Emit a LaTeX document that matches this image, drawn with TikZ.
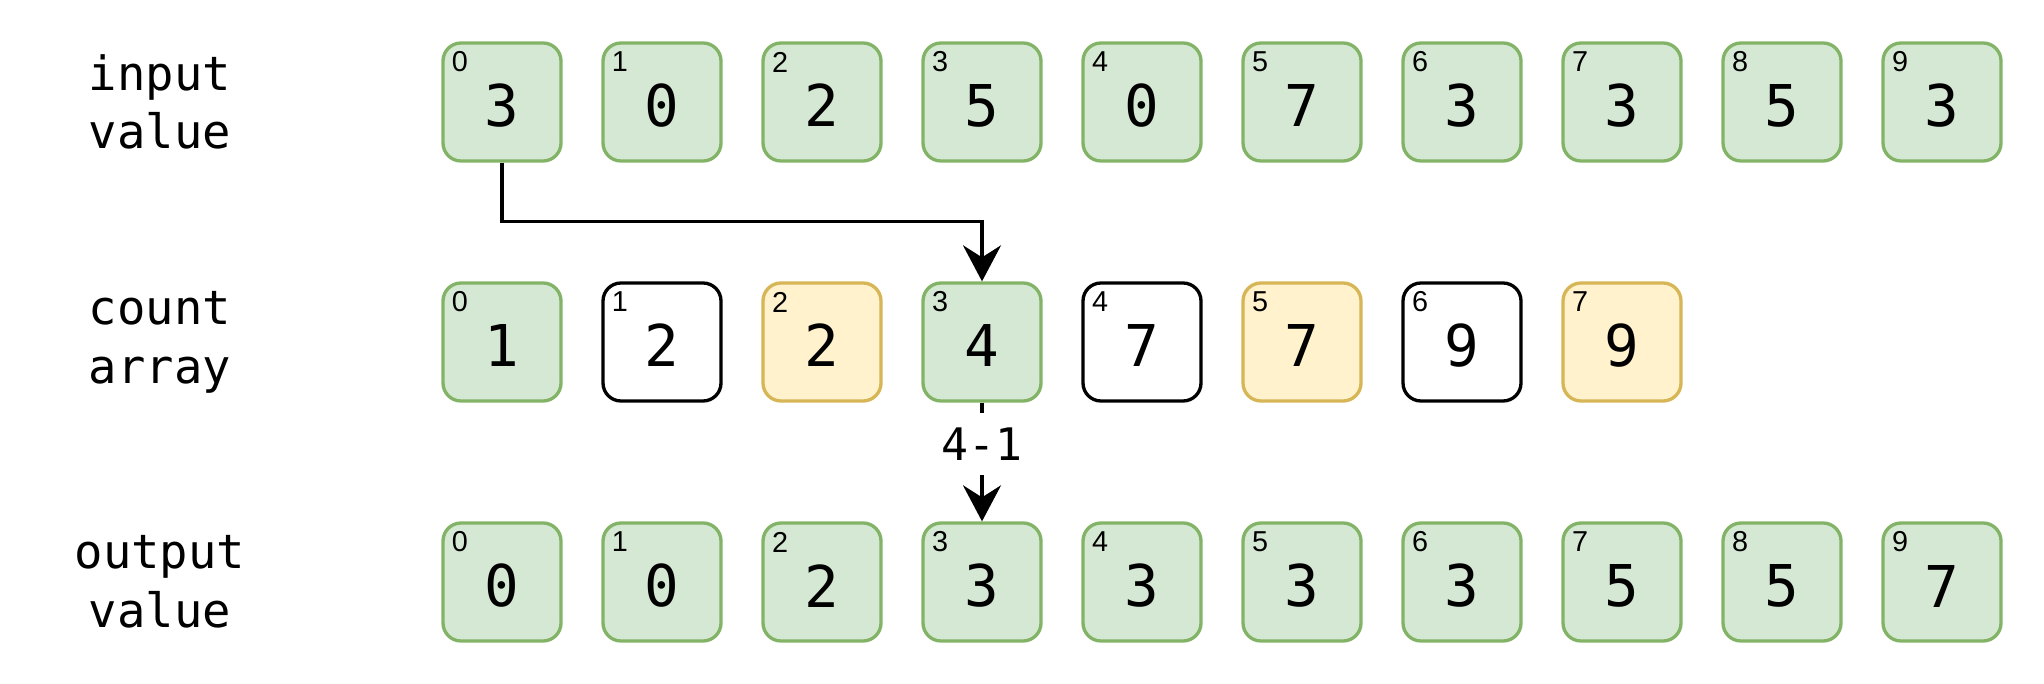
\documentclass[tikz,border=0pt]{standalone}
\usepackage{fontspec}
\setmonofont{DejaVu Sans Mono}
\newfontfamily\idxfont{Liberation Sans}
\usetikzlibrary{arrows.meta}

\definecolor{okfill}{HTML}{D5E8D4}
\definecolor{okline}{HTML}{82B366}
\definecolor{hlfill}{HTML}{FFF2CC}
\definecolor{hlline}{HTML}{D6B656}

\tikzset{
  cell/.style={draw=okline, fill=okfill, rounded corners=4.5pt, line width=0.83pt,
    minimum size=29.5pt, inner sep=0pt, text height=12.5pt,
    font=\ttfamily\fontsize{14.4}{17}\selectfont},
  plaincell/.style={cell, draw=black, fill=white},
  hlcell/.style={cell, draw=hlline, fill=hlfill},
  idx/.style={inner sep=0pt, font=\idxfont\fontsize{7.2}{8}\selectfont},
  rowname/.style={align=center, font=\ttfamily\fontsize{11.8}{14.7}\selectfont},
  flow/.style={line width=0.83pt, -{Stealth[length=9pt, width=9.5pt, inset=3pt]}}
}

\begin{document}
\begin{tikzpicture}[x=0.25pt, y=-0.25pt]
  \useasboundingbox (0,0) rectangle (2044,684);

  % row names
  \node[rowname] (lin) at (160,102) {input\\value};
  \node[rowname] (lcnt) at (160,342) {count\\array};
  \node[rowname] (lout) at (160,582) {output\\value};

  % input values
  \foreach \v [count=\i from 0] in {3,0,2,5,0,7,3,3,5,3} {
    \node[cell] (in\i) at (502+160*\i,102) {\v};
    \node[idx] (inidx\i) at (460+160*\i,62) {\i};
  }

  % count array
  \foreach \v/\s [count=\i from 0] in {1/cell,2/plaincell,2/hlcell,4/cell,7/plaincell,7/hlcell,9/plaincell,9/hlcell} {
    \node[\s] (cnt\i) at (502+160*\i,342) {\v};
    \node[idx] (cntidx\i) at (460+160*\i,302) {\i};
  }

  % output values
  \foreach \v [count=\i from 0] in {0,0,2,3,3,3,3,5,5,7} {
    \node[cell] (out\i) at (502+160*\i,582) {\v};
    \node[idx] (outidx\i) at (460+160*\i,542) {\i};
  }

  \draw[flow] (in0.south) -- ++(0,59) -| (cnt3.north);
  \draw[flow] (cnt3.south) -- node[pos=0.35, fill=white, minimum height=15.5pt, inner sep=0pt,
    font=\ttfamily\fontsize{11.2}{13}\selectfont] (dec) {4-1} (out3.north);
\end{tikzpicture}
\end{document}
